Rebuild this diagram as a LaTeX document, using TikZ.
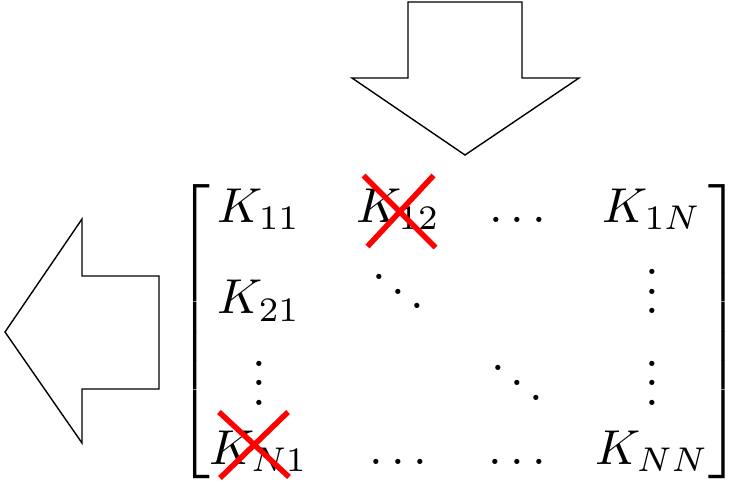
\documentclass[tikz,border=0pt]{standalone}
\usepackage{amsmath}
\usepackage{graphicx}
\usetikzlibrary{calc}
\tikzset{
  bigarrow/.style={draw=black, fill=white, line width=1.4pt, line join=miter},
  crossline/.style={draw=red, line width=5.5pt},
}
\begin{document}
\begin{tikzpicture}[x=1pt,y=-1pt]
\useasboundingbox (0,0) rectangle (730,487);
% down arrow
\draw[bigarrow] (408,2) -- (522,2) -- (522,78) -- (579,78) -- (465,155) -- (352,78) -- (408,78) -- cycle;
% left arrow
\draw[bigarrow] (159,276) -- (159,389) -- (82,389) -- (82,443) -- (5,332) -- (82,219) -- (82,276) -- cycle;
% matrix
\node[inner sep=0pt, outer sep=0pt, anchor=west] (M) at (177,331.5)
  {\scalebox{4.9}{$\begin{bmatrix}
   K_{11} & K_{12} & \ldots & K_{1N}\\
   K_{21} & \ddots & & \vdots \\
   \vdots & & \ddots & \vdots \\
   K_{N1} & \ldots & \ldots & K_{NN}
  \end{bmatrix}$}};
% crosses
\coordinate (c12) at (399.5,211.5);
\coordinate (cN1) at (254,445);
\draw[crossline] ($(c12)+(-36,-36)$) -- ($(c12)+(36,36)$);
\draw[crossline] ($(c12)+(34,-36)$) -- ($(c12)+(-32,35)$);
\draw[crossline] ($(cN1)+(-35,-33)$) -- ($(cN1)+(35,32)$);
\draw[crossline] ($(cN1)+(34,-33)$) -- ($(cN1)+(-34,33)$);
\end{tikzpicture}
\end{document}
